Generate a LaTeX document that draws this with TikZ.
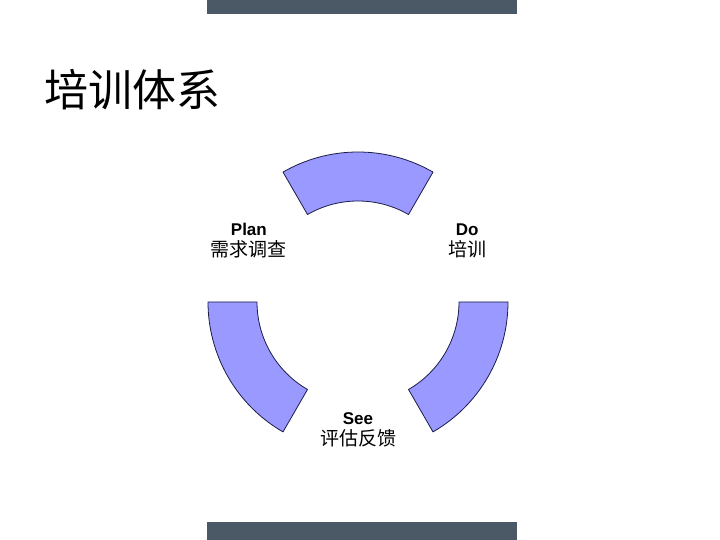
\documentclass[tikz,border=0pt]{standalone}
\usepackage{fontspec}
\setsansfont{Liberation Sans}
\newfontfamily\cjk{Noto Sans CJK SC}
\usepackage{xcolor}
\definecolor{barcol}{HTML}{4B5967}
\definecolor{segfill}{HTML}{9999FF}
\definecolor{segline}{HTML}{1C1C48}
\usetikzlibrary{positioning}

\begin{document}
\begin{tikzpicture}[
  x=1pt, y=1pt,
  bar/.style={fill=barcol, draw=none},
  seg/.style={fill=segfill, draw=segline, line width=0.8pt, line join=round},
  lab/.style={align=center, inner sep=1pt, yshift=-2pt, font=\fontsize{17}{21}\selectfont}
]
\useasboundingbox (0,0) rectangle (720,540);
% bars at top and bottom
\fill[bar] (207,526) rectangle (517,540);
\fill[bar] (207,0) rectangle (517,18);
% title
\node[anchor=west, inner sep=0pt, font=\fontsize{44}{48}\selectfont] (title) at (44,450) {\cjk 培训体系};

% cycle of three segments
\begin{scope}[shift={(358,238)}]
  \foreach \a in {60,180,300} {
    \draw[seg] (\a:150) arc[start angle=\a, end angle=\a+60, radius=150]
      -- (\a+60:101) arc[start angle=\a+60, end angle=\a, radius=101] -- cycle;
  }
  \node[lab] (plan) at (150:126) {\sffamily\bfseries Plan\\{\cjk\fontsize{19}{21}\selectfont 需求调查}};
  \node[lab] (do) at (30:126) {\sffamily\bfseries Do\\{\cjk\fontsize{19}{21}\selectfont 培训}};
  \node[lab] (see) at (270:126) {\sffamily\bfseries See\\{\cjk\fontsize{19}{21}\selectfont 评估反馈}};
\end{scope}
\end{tikzpicture}
\end{document}
